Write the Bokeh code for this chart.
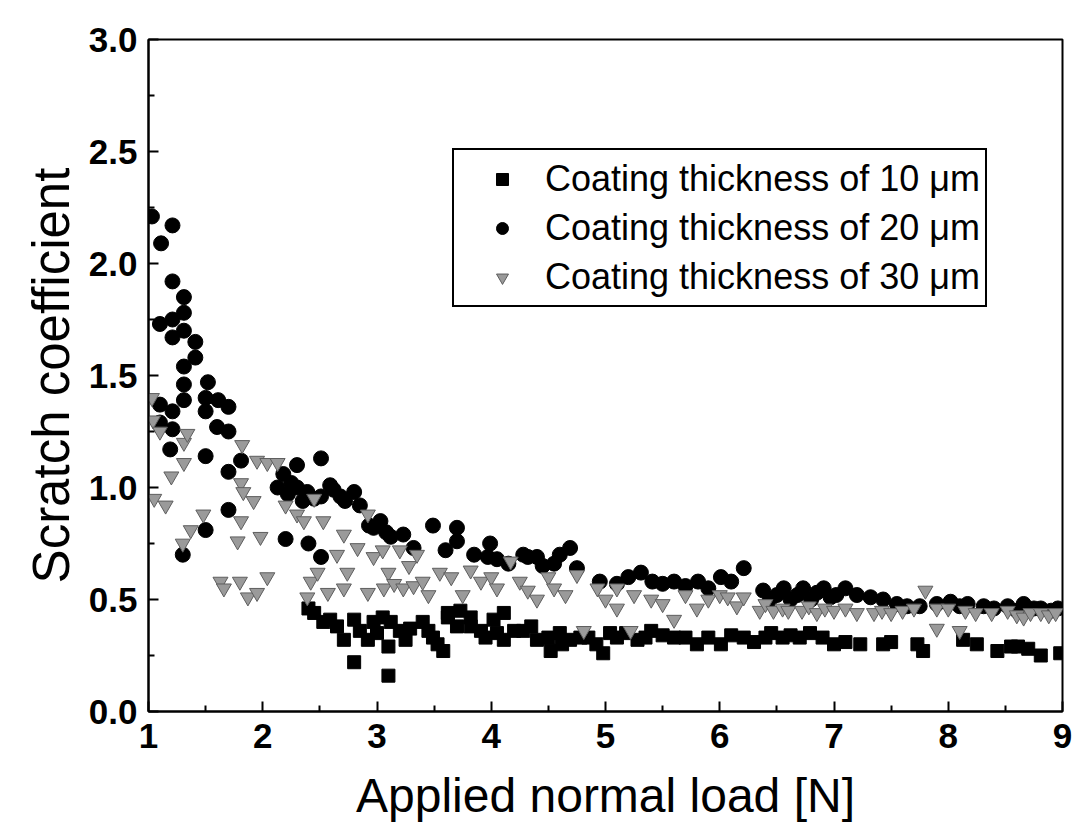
from bokeh.plotting import figure
from bokeh.models import Legend, LegendItem, FixedTicker, NumeralTickFormatter, Range1d
from bokeh.embed import file_html
from bokeh.resources import INLINE

# ---- data ----
load_10 = [2.40, 2.45, 2.53, 2.59, 2.65, 2.71, 2.80, 2.80, 2.85, 2.92, 2.97, 3.00, 3.05, 3.10,
           3.10, 3.12, 3.20, 3.25, 3.29, 3.40, 3.45, 3.49, 3.53, 3.58, 3.62, 3.62, 3.70, 3.73,
           3.82, 3.82, 3.91, 3.95, 4.02, 4.05, 4.11, 4.11, 4.20, 4.28, 4.35, 4.40, 4.50, 4.52,
           4.60, 4.62, 4.69, 4.78, 4.85, 4.92, 4.98, 5.04, 5.10, 5.18, 5.28, 5.35, 5.40, 5.50,
           5.60, 5.70, 5.80, 5.90, 6.01, 6.10, 6.21, 6.30, 6.40, 6.45, 6.55, 6.62, 6.70, 6.79,
           6.90, 7.00, 7.10, 7.23, 7.43, 7.50, 7.73, 7.78, 8.13, 8.25, 8.43, 8.55, 8.61, 8.70,
           8.81, 8.98]
coef_10 = [0.46, 0.44, 0.40, 0.41, 0.38, 0.32, 0.22, 0.41, 0.36, 0.32, 0.40, 0.35, 0.42, 0.16,
           0.29, 0.40, 0.36, 0.32, 0.37, 0.40, 0.36, 0.33, 0.30, 0.27, 0.42, 0.44, 0.38, 0.45,
           0.42, 0.38, 0.36, 0.33, 0.41, 0.35, 0.32, 0.44, 0.36, 0.36, 0.38, 0.32, 0.33, 0.27,
           0.35, 0.30, 0.32, 0.33, 0.33, 0.30, 0.26, 0.35, 0.33, 0.35, 0.32, 0.33, 0.36, 0.34,
           0.33, 0.33, 0.30, 0.33, 0.30, 0.34, 0.33, 0.31, 0.33, 0.35, 0.33, 0.34, 0.33, 0.35,
           0.33, 0.30, 0.31, 0.30, 0.30, 0.31, 0.30, 0.27, 0.32, 0.30, 0.27, 0.29, 0.29, 0.28,
           0.25, 0.26]

load_20 = [1.03, 1.11, 1.21, 1.21, 1.31, 1.31, 1.21, 1.10, 1.31, 1.21, 1.41, 1.41, 1.31, 1.31,
           1.52, 1.50, 1.61, 1.70, 1.31, 1.10, 1.21, 1.50, 1.60, 1.70, 1.10, 1.21, 1.19, 1.50,
           1.81, 1.70, 2.51, 2.30, 2.18, 2.13, 2.22, 2.25, 2.30, 2.35, 2.39, 2.45, 2.59, 2.62,
           2.72, 2.80, 2.51, 2.68, 2.85, 1.70, 1.50, 2.20, 2.40, 2.51, 1.30, 2.97, 3.03, 2.93,
           3.08, 3.12, 3.23, 3.32, 3.49, 3.60, 3.70, 3.70, 3.85, 3.97, 3.99, 4.05, 4.15, 4.28,
           4.32, 4.40, 4.45, 4.55, 4.60, 4.69, 4.75, 4.95, 5.10, 5.20, 5.31, 5.41, 5.50, 5.60,
           5.70, 5.81, 5.90, 6.01, 6.10, 6.21, 6.38, 6.44, 6.50, 6.56, 6.62, 6.68, 6.73, 6.80,
           6.85, 6.91, 6.97, 7.02, 7.10, 7.20, 7.32, 7.43, 7.55, 7.64, 7.75, 7.90, 8.02, 8.10,
           8.17, 8.31, 8.40, 8.52, 8.60, 8.66, 8.75, 8.81, 8.90, 8.96]
coef_20 = [2.21, 2.09, 2.17, 1.92, 1.85, 1.78, 1.75, 1.73, 1.70, 1.67, 1.65, 1.58, 1.54, 1.46,
           1.47, 1.40, 1.39, 1.36, 1.39, 1.37, 1.34, 1.34, 1.27, 1.25, 1.29, 1.26, 1.17, 1.14,
           1.12, 1.07, 1.13, 1.10, 1.06, 1.00, 0.97, 1.02, 1.00, 0.94, 0.98, 0.95, 1.01, 0.99,
           0.94, 0.98, 0.96, 0.96, 0.92, 0.90, 0.81, 0.77, 0.75, 0.69, 0.70, 0.82, 0.85, 0.83,
           0.80, 0.78, 0.79, 0.73, 0.83, 0.72, 0.82, 0.76, 0.70, 0.69, 0.75, 0.68, 0.66, 0.70,
           0.69, 0.69, 0.65, 0.66, 0.70, 0.73, 0.64, 0.58, 0.57, 0.60, 0.62, 0.58, 0.57, 0.58,
           0.56, 0.58, 0.55, 0.60, 0.58, 0.64, 0.54, 0.50, 0.52, 0.55, 0.50, 0.52, 0.55, 0.50,
           0.53, 0.55, 0.51, 0.52, 0.55, 0.52, 0.51, 0.50, 0.48, 0.47, 0.47, 0.48, 0.49, 0.47,
           0.48, 0.47, 0.46, 0.47, 0.45, 0.48, 0.46, 0.46, 0.45, 0.46]

load_30 = [1.03, 1.04, 1.10, 1.31, 1.31, 1.34, 1.20, 1.05, 1.15, 1.37, 1.48, 1.30, 1.63, 1.66,
           1.80, 1.87, 1.95, 2.04, 1.78, 1.81, 1.81, 1.83, 1.82, 1.92, 1.95, 1.98, 2.04, 2.13,
           2.20, 2.30, 2.36, 2.42, 2.39, 2.45, 2.48, 2.53, 2.57, 2.65, 2.71, 2.71, 2.74, 2.83,
           2.92, 2.92, 2.97, 3.06, 3.10, 3.15, 3.23, 3.28, 3.32, 3.40, 3.45, 3.05, 3.20, 3.35,
           3.55, 3.65, 3.75, 3.82, 3.91, 4.00, 4.05, 4.17, 4.25, 4.32, 4.40, 4.50, 4.55, 4.65,
           4.75, 4.81, 4.93, 5.00, 5.10, 5.10, 5.22, 5.25, 5.40, 5.50, 5.60, 5.70, 5.80, 5.90,
           6.00, 6.07, 6.15, 6.21, 6.35, 6.40, 6.47, 6.55, 6.60, 6.72, 6.78, 6.85, 6.92, 7.00,
           7.10, 7.20, 7.35, 7.42, 7.50, 7.60, 7.70, 7.80, 7.90, 7.90, 8.00, 8.10, 8.15, 8.24,
           8.38, 8.52, 8.60, 8.66, 8.72, 8.81, 8.88, 8.94]
coef_30 = [1.40, 1.30, 1.25, 1.20, 1.11, 1.24, 1.05, 0.95, 0.92, 0.81, 0.88, 0.75, 0.58, 0.55,
           0.58, 0.51, 0.53, 0.60, 0.76, 0.85, 1.02, 0.98, 1.19, 0.94, 1.12, 0.78, 1.11, 1.11,
           0.92, 0.88, 0.85, 0.58, 0.51, 0.95, 0.62, 0.85, 0.53, 0.70, 0.79, 0.55, 0.62, 0.73,
           0.88, 0.53, 0.69, 0.55, 0.62, 0.57, 0.55, 0.65, 0.56, 0.58, 0.52, 0.72, 0.72, 0.70,
           0.62, 0.60, 0.52, 0.63, 0.58, 0.60, 0.55, 0.67, 0.58, 0.54, 0.50, 0.60, 0.55, 0.52,
           0.61, 0.36, 0.55, 0.50, 0.55, 0.46, 0.36, 0.52, 0.50, 0.48, 0.41, 0.52, 0.46, 0.50,
           0.52, 0.51, 0.47, 0.51, 0.45, 0.48, 0.45, 0.46, 0.45, 0.45, 0.47, 0.44, 0.46, 0.45,
           0.46, 0.44, 0.44, 0.45, 0.44, 0.45, 0.46, 0.54, 0.46, 0.37, 0.46, 0.36, 0.45, 0.44,
           0.44, 0.45, 0.43, 0.42, 0.44, 0.44, 0.43, 0.44]

series_labels = ["Coating thickness of 10 \u03bcm",
                 "Coating thickness of 20 \u03bcm",
                 "Coating thickness of 30 \u03bcm"]
x_ticks = [1, 2, 3, 4, 5, 6, 7, 8, 9]
y_ticks = [0.0, 0.5, 1.0, 1.5, 2.0, 2.5, 3.0]

FONT = "Liberation Sans"

p = figure(width=1089, height=835, output_backend="svg", toolbar_location=None,
           x_range=Range1d(1, 9), y_range=Range1d(0, 3.0),
           min_border_left=148, min_border_right=27, min_border_top=39, min_border_bottom=124)
p.background_fill_color = "white"
p.border_fill_color = "white"
p.grid.visible = False
p.outline_line_color = "black"
p.outline_line_width = 2
p.outline_line_alpha = 1.0

r10 = p.scatter(load_10, coef_10, marker="square", size=13, fill_color="black", line_color="black")
r20 = p.scatter(load_20, coef_20, marker="circle", size=15, fill_color="black", line_color="black")
r30 = p.scatter(load_30, coef_30, marker="inverted_triangle", size=15,
                fill_color="#9a9a9a", line_color="#5e5e5e", line_width=1)

for ax in (p.xaxis[0], p.yaxis[0]):
    ax.axis_line_width = 2
    ax.axis_line_color = "black"
    ax.major_tick_in = 10
    ax.major_tick_out = 0
    ax.minor_tick_in = 6
    ax.minor_tick_out = 0
    ax.major_tick_line_width = 2
    ax.minor_tick_line_width = 2
    ax.major_label_text_font = FONT
    ax.major_label_text_font_style = "bold"
    ax.major_label_text_font_size = "35px"
    ax.major_label_text_color = "black"
    ax.axis_label_text_font = FONT
    ax.axis_label_text_font_style = "normal"
    ax.axis_label_text_color = "black"

p.xaxis.axis_label_text_font_size = "48px"
p.yaxis.axis_label_text_font_size = "51px"
p.xaxis.ticker = FixedTicker(ticks=x_ticks, minor_ticks=[1.5, 2.5, 3.5, 4.5, 5.5, 6.5, 7.5, 8.5])
p.yaxis.ticker = FixedTicker(ticks=y_ticks, minor_ticks=[0.25, 0.75, 1.25, 1.75, 2.25, 2.75])
p.xaxis.formatter = NumeralTickFormatter(format="0")
p.yaxis.formatter = NumeralTickFormatter(format="0.0")
p.xaxis.major_label_standoff = 12
p.yaxis.major_label_standoff = 11
p.xaxis.axis_label = "Applied normal load [N]"
p.yaxis.axis_label = "Scratch coefficient"
p.xaxis.axis_label_standoff = 18
p.yaxis.axis_label_standoff = 6

legend = Legend(items=[LegendItem(label=series_labels[0], renderers=[r10]),
                       LegendItem(label=series_labels[1], renderers=[r20]),
                       LegendItem(label=series_labels[2], renderers=[r30])],
                location=(304, 404), margin=0, padding=5, spacing=2,
                glyph_width=86, glyph_height=30, label_height=47, label_standoff=0,
                label_text_font=FONT, label_text_font_size="36px", label_text_color="black",
                border_line_color="black", border_line_width=2, border_line_alpha=1.0,
                background_fill_color="white", background_fill_alpha=1.0)
p.add_layout(legend, "center")

open("out.html", "w").write(file_html(p, INLINE))
